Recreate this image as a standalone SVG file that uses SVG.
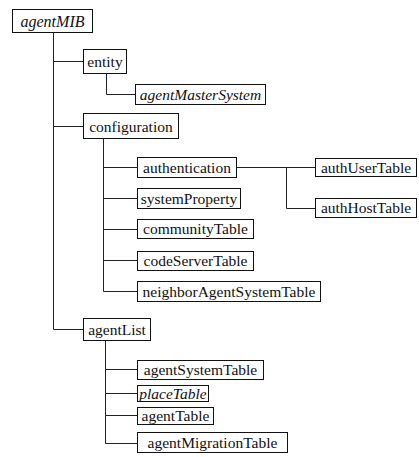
<svg xmlns="http://www.w3.org/2000/svg" width="419" height="457" viewBox="0 0 419 457">
  <style>
    .box { fill: #fff; stroke: #111; stroke-width: 1; }
    .lbl { font-family: "Liberation Serif", "Times New Roman", serif; font-size: 15.5px; fill: #111; text-anchor: middle; }
    .it { font-style: italic; }
    .wire { fill: none; stroke: #222; stroke-width: 1; }
  </style>
  <rect width="419" height="457" fill="#fff"/>

  <!-- tree connectors -->
  <g id="connectors" class="wire">
    <!-- root trunk -->
    <path d="M53.5 32.5 V329.5 M53.5 61.5 H83.5 M53.5 126.5 H83.5 M53.5 329.5 H83.5"/>
    <!-- entity branch -->
    <path d="M106.5 73.5 V94.5 H135.5"/>
    <!-- configuration branch -->
    <path d="M103.5 138.5 V291.5 M103.5 167.5 H137.5 M103.5 198.5 H137.5 M103.5 229.5 H137.5 M103.5 260.5 H137.5 M103.5 291.5 H137.5"/>
    <!-- authentication branch -->
    <path d="M236.5 167.5 H315.5 M286.5 167.5 V208.5 H315.5"/>
    <!-- agentList branch -->
    <path d="M105.5 340.5 V443.5 M105.5 369.5 H137.5 M105.5 393.5 H137.5 M105.5 415.5 H137.5 M105.5 443.5 H137.5"/>
  </g>

  <g id="agentMIB">
    <rect class="box" x="12.5" y="9.5" width="80" height="23"/>
    <text class="lbl it" x="52.5" y="26.5" style="font-size:16px">agentMIB</text>
  </g>
  <g id="entity">
    <rect class="box" x="83.5" y="49.5" width="43" height="24"/>
    <text class="lbl" x="105" y="66.5">entity</text>
  </g>
  <g id="agentMasterSystem">
    <rect class="box" x="135.5" y="84.5" width="130" height="20"/>
    <text class="lbl it" x="200.5" y="99.5">agentMasterSystem</text>
  </g>
  <g id="configuration">
    <rect class="box" x="83.5" y="113.5" width="95" height="25"/>
    <text class="lbl" x="131" y="131.5">configuration</text>
  </g>
  <g id="authentication">
    <rect class="box" x="137.5" y="157.5" width="99" height="20"/>
    <text class="lbl" x="187" y="172.5">authentication</text>
  </g>
  <g id="systemProperty">
    <rect class="box" x="137.5" y="188.5" width="103" height="20"/>
    <text class="lbl" x="189" y="203.5">systemProperty</text>
  </g>
  <g id="communityTable">
    <rect class="box" x="137.5" y="219.5" width="116" height="19"/>
    <text class="lbl" x="195.5" y="234">communityTable</text>
  </g>
  <g id="codeServerTable">
    <rect class="box" x="137.5" y="251.5" width="116" height="19"/>
    <text class="lbl" x="195.5" y="266">codeServerTable</text>
  </g>
  <g id="neighborAgentSystemTable">
    <rect class="box" x="137.5" y="281.5" width="183" height="20"/>
    <text class="lbl" x="229" y="296.5">neighborAgentSystemTable</text>
  </g>
  <g id="authUserTable">
    <rect class="box" x="315.5" y="158.5" width="101" height="18"/>
    <text class="lbl" x="366" y="172.5">authUserTable</text>
  </g>
  <g id="authHostTable">
    <rect class="box" x="315.5" y="198.5" width="101" height="19"/>
    <text class="lbl" x="366" y="213">authHostTable</text>
  </g>
  <g id="agentList">
    <rect class="box" x="83.5" y="318.5" width="67" height="22"/>
    <text class="lbl" x="117" y="334.5">agentList</text>
  </g>
  <g id="agentSystemTable">
    <rect class="box" x="137.5" y="360.5" width="126" height="19"/>
    <text class="lbl" x="200.5" y="375">agentSystemTable</text>
  </g>
  <g id="placeTable">
    <rect class="box" x="137.5" y="385.5" width="71" height="16"/>
    <text class="lbl it" x="173" y="398.5">placeTable</text>
  </g>
  <g id="agentTable">
    <rect class="box" x="137.5" y="407.5" width="76" height="17"/>
    <text class="lbl" x="175.5" y="421">agentTable</text>
  </g>
  <g id="agentMigrationTable">
    <rect class="box" x="137.5" y="432.5" width="150" height="20"/>
    <text class="lbl" x="212.5" y="447.5">agentMigrationTable</text>
  </g>
</svg>
